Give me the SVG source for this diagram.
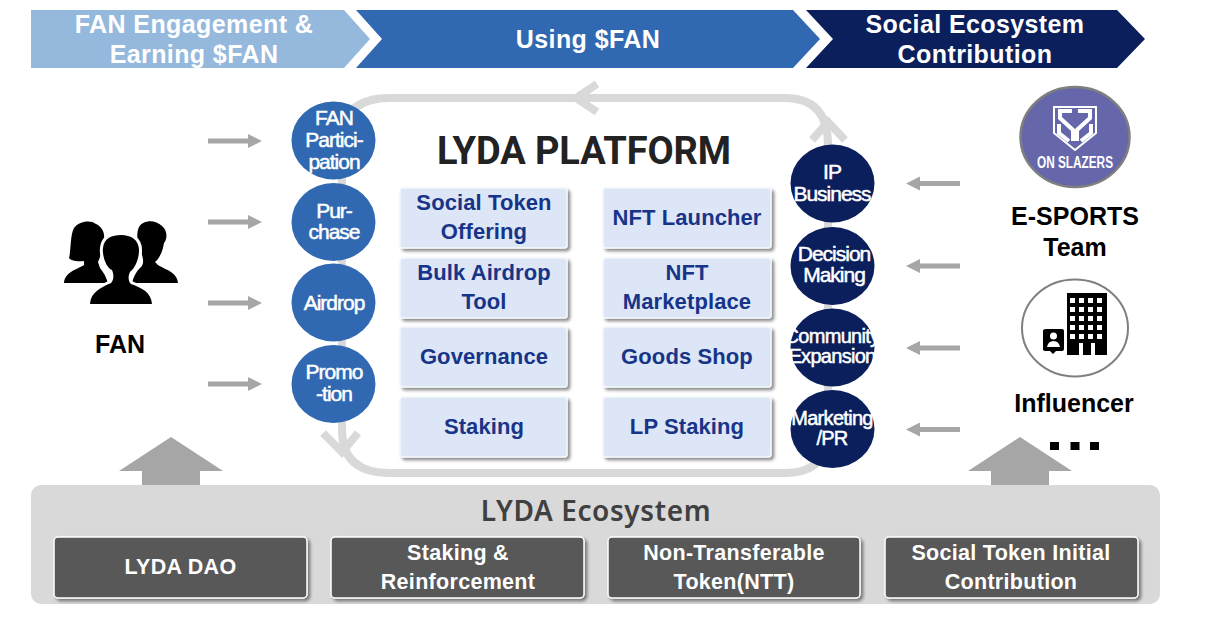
<svg xmlns="http://www.w3.org/2000/svg" width="1212" height="618" viewBox="0 0 1212 618">
<style>
text{font-family:"Liberation Sans",Arial,sans-serif;text-anchor:middle;font-weight:700}
.rib{fill:#fff;font-size:25px;letter-spacing:.4px}
.cl text{fill:#fff;font-size:21px;font-weight:400;letter-spacing:-1px;stroke:#fff;stroke-width:.5px}
.cl text.sm2{font-size:20px;letter-spacing:-.7px}
.cb{fill:#3069b1}
.cn{fill:#0a1f5c}
.box{fill:#dce6f6;stroke:#f4f7fc;stroke-width:1.5px;filter:url(#sh)}
.bt{fill:#173488;font-size:22px;letter-spacing:.1px}
.dark{fill:#595959;stroke:#fff;stroke-width:1.5px;filter:url(#sh)}
.dt{fill:#fff;font-size:21.500px;letter-spacing:.3px}
.lab{fill:#000;font-size:25px}
.loop{fill:none;stroke:#d9d9d9;stroke-width:8px}
.sm{fill:#a6a6a6}
</style>
<defs>
<filter id="sh" x="-5%" y="-10%" width="112%" height="125%"><feDropShadow dx="2.5" dy="2.5" stdDeviation="1.5" flood-color="#000" flood-opacity=".45"/></filter>
<path id="ar" d="M0-2.500H40V-7L54 0 40 7V2.500H0Z"/>
<path id="up" d="M0-48L52-14H29V34H-29V-14H-52Z"/>
</defs>
<g id="phase-engagement"><path d="M31 10H344L370 39 344 68H31Z" fill="#95b8dd"/><text class="rib" x="194" y="33">FAN Engagement &amp;</text><text class="rib" x="194" y="63">Earning $FAN</text></g>
<g id="phase-using"><path d="M356 10H793L820 39 793 68H356L382 39Z" fill="#3069b1"/><text class="rib" x="588" y="48">Using $FAN</text></g>
<g id="phase-social"><path d="M806 10H1117L1145 39 1117 68H806L833 39Z" fill="#0a1f5c"/><text class="rib" x="975" y="33">Social Ecosystem</text><text class="rib" x="975" y="63">Contribution</text></g>
<g id="connectors">
<path class="loop" d="M342 430V140Q342 98 390 98H785Q828 98 828 145V430Q828 473 785 473H390Q342 473 342 430Z"/>
<path class="loop" d="M597 84L576 98 597 112M812 140L828 122 845 140M323 433L342 452 358 433" stroke-width="9"/>
<g class="sm">
<use href="#ar" x="208" y="141"/><use href="#ar" x="208" y="222"/><use href="#ar" x="208" y="303"/><use href="#ar" x="208" y="384"/>
<use href="#ar" transform="translate(960 183.500) rotate(180)"/><use href="#ar" transform="translate(960 266) rotate(180)"/><use href="#ar" transform="translate(960 348) rotate(180)"/><use href="#ar" transform="translate(960 429.500) rotate(180)"/>
<use href="#up" x="171" y="485"/>
<use href="#up" x="1020" y="485"/>
</g>
</g>
<g id="fan">
<g fill="#000">
<path d="M64 283C65 272 76 270 84 265V261C76 262 70 260 69 258 71 252 70 235 74 228 78 222 90 219 96 224 101 226 105 232 104 238 103 248 100 258 98 262L100 268C103 272 105 274 108 283Z"/>
<path d="M178 283C177 272 166 270 158 265L155 262C160 258 163 250 164 243 168 238 167 230 162 226 155 219 143 220 139 227 136 233 137 245 141 252 144 260 144 265 140 268 136 272 134 276 132 283Z"/>
<path d="M90 304C91 292 100 288 111 283 114 280 114 275 112 270 106 268 102 255 103 248 104 238 112 235 121 235 131 235 139 240 139 250 139 258 136 267 130 272 128 276 128 281 131 284 142 288 151 292 152 304Z" stroke="#fff" stroke-width="6" paint-order="stroke"/>
</g>
<text class="lab" x="120" y="353" font-size="24">FAN</text>
</g>
<g class="cl">
<g id="c-fan-participation"><ellipse class="cb" cx="333.500" cy="140.500" rx="42" ry="39"/><text x="334" y="125">FAN</text><text x="334" y="147">Partici-</text><text x="334" y="169">pation</text></g>
<g id="c-purchase"><ellipse class="cb" cx="333.500" cy="222" rx="42" ry="39"/><text x="334" y="218">Pur-</text><text x="334" y="239">chase</text></g>
<g id="c-airdrop"><ellipse class="cb" cx="333.500" cy="302.500" rx="42" ry="39"/><text x="334" y="310">Airdrop</text></g>
<g id="c-promotion"><ellipse class="cb" cx="333.500" cy="384" rx="42" ry="39"/><text x="334" y="379">Promo</text><text x="334" y="401">-tion</text></g>
<g id="c-ip"><ellipse class="cn" cx="832.500" cy="183.500" rx="42" ry="39"/><text x="832" y="179">IP</text><text x="832" y="201">Business</text></g>
<g id="c-decision"><ellipse class="cn" cx="832.500" cy="266" rx="42" ry="39"/><text x="834" y="261">Decision</text><text x="834" y="282">Making</text></g>
<g id="c-community"><ellipse class="cn" cx="832.500" cy="347.500" rx="42" ry="39"/><text class="sm2" x="832" y="343">Community</text><text class="sm2" x="832" y="363">Expansion</text></g>
<g id="c-marketing"><ellipse class="cn" cx="832.500" cy="429" rx="42" ry="39"/><text class="sm2" x="832" y="425">Marketing</text><text class="sm2" x="832" y="445">/PR</text></g>
</g>
<g id="platform">
<text x="584" y="164" style="font-family:Roboto,'Liberation Sans',sans-serif;font-size:38px;fill:#222;letter-spacing:-.1px">LYDA PLATFORM</text>
<g id="b-sto"><rect class="box" x="400" y="188" width="167" height="60" rx="3"/><text class="bt" x="484" y="210">Social Token</text><text class="bt" x="484" y="239">Offering</text></g>
<g id="b-airdrop"><rect class="box" x="400" y="258" width="167" height="60" rx="3"/><text class="bt" x="484" y="280">Bulk Airdrop</text><text class="bt" x="484" y="309">Tool</text></g>
<g id="b-gov"><rect class="box" x="400" y="327" width="167" height="60" rx="3"/><text class="bt" x="484" y="364">Governance</text></g>
<g id="b-staking"><rect class="box" x="400" y="397" width="167" height="60" rx="3"/><text class="bt" x="484" y="434">Staking</text></g>
<g id="b-launcher"><rect class="box" x="603" y="188" width="168" height="60" rx="3"/><text class="bt" x="687" y="225">NFT Launcher</text></g>
<g id="b-market"><rect class="box" x="603" y="258" width="168" height="60" rx="3"/><text class="bt" x="687" y="280">NFT</text><text class="bt" x="687" y="309">Marketplace</text></g>
<g id="b-goods"><rect class="box" x="603" y="327" width="168" height="60" rx="3"/><text class="bt" x="687" y="364">Goods Shop</text></g>
<g id="b-lp"><rect class="box" x="603" y="397" width="168" height="60" rx="3"/><text class="bt" x="687" y="434">LP Staking</text></g>
</g>
<g id="esports">
<ellipse cx="1075" cy="137" rx="54.500" ry="50" fill="#6667ab" stroke="#7f7f7f" stroke-width="2.500"/>
<g fill="none" stroke="#fff">
<path d="M1054 107H1096V133L1075 150 1054 133Z" stroke-width="2"/>
<path d="M1072 111H1060V118L1073 130V141M1059 124V133L1069 141M1078 111H1090V118L1077 130V141M1091 124V133L1081 141" stroke-width="4"/>
</g>
<text x="1075" y="168" font-size="16" fill="#fff" textLength="76" lengthAdjust="spacingAndGlyphs">ON SLAZERS</text>
<text class="lab" x="1075" y="225">E-SPORTS</text><text class="lab" x="1075" y="256">Team</text>
</g>
<g id="influencer">
<ellipse cx="1075" cy="328" rx="53" ry="48.500" fill="#fff" stroke="#7f7f7f" stroke-width="2"/>
<path d="M1067 293H1107V355H1095V343H1091V355H1083V343H1079V355H1067Z" fill="#000"/>
<path d="M1070 298h5v5h-5zM1079 298h5v5h-5zM1088 298h5v5h-5zM1097 298h5v5h-5zM1070 307h5v5h-5zM1079 307h5v5h-5zM1088 307h5v5h-5zM1097 307h5v5h-5zM1070 316h5v5h-5zM1079 316h5v5h-5zM1088 316h5v5h-5zM1097 316h5v5h-5zM1070 325h5v5h-5zM1079 325h5v5h-5zM1088 325h5v5h-5zM1097 325h5v5h-5zM1070 334h5v5h-5zM1079 334h5v5h-5zM1088 334h5v5h-5zM1097 334h5v5h-5z" fill="#fff"/>
<path d="M1046 329H1062Q1064 329 1064 331V349Q1064 351 1062 351H1056L1053 354 1050 351H1046Q1043 351 1043 349V331Q1043 329 1046 329Z" fill="#000"/>
<circle cx="1053.500" cy="336" r="3.500" fill="#fff"/><path d="M1047 347Q1048 341 1053.500 341 1059 341 1060 347Z" fill="#fff"/>
<text class="lab" x="1074" y="412">Influencer</text>
<path d="M1050 442h9v8h-9zM1070.500 442h9v8h-9zM1090 442h9v8h-9z" fill="#000"/>
</g>
<g id="ecosystem">
<rect x="31" y="485" width="1129" height="119" rx="10" fill="#d9d9d9"/>
<text x="596" y="521" style="font-family:'Noto Sans','Liberation Sans',sans-serif;font-size:28px;font-weight:600;fill:#404040;letter-spacing:.6px">LYDA Ecosystem</text>
<g id="e-dao"><rect class="dark" x="54" y="537" width="253" height="61" rx="4"/><text class="dt" x="180.500" y="574">LYDA DAO</text></g>
<g id="e-staking"><rect class="dark" x="331" y="537" width="253" height="61" rx="4"/><text class="dt" x="458" y="560">Staking &amp;</text><text class="dt" x="458" y="589">Reinforcement</text></g>
<g id="e-ntt"><rect class="dark" x="608" y="537" width="252" height="61" rx="4"/><text class="dt" x="734" y="560">Non-Transferable</text><text class="dt" x="734" y="589">Token(NTT)</text></g>
<g id="e-contrib"><rect class="dark" x="885" y="537" width="253" height="61" rx="4"/><text class="dt" x="1011" y="560">Social Token Initial</text><text class="dt" x="1011" y="589">Contribution</text></g>
</g>
</svg>
